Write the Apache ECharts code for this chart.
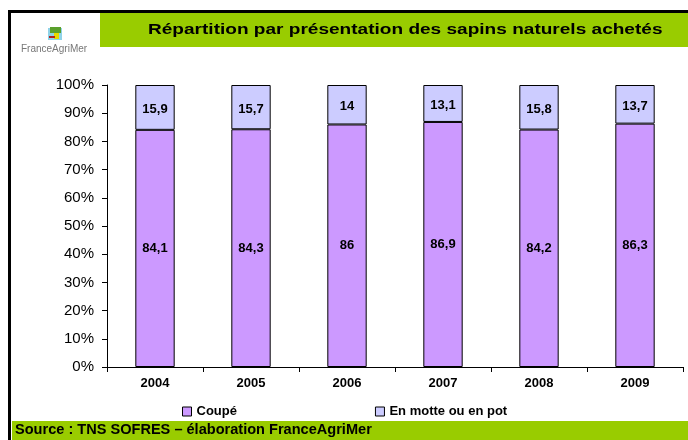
<!DOCTYPE html>
<html>
<head>
<meta charset="utf-8">
<script src="https://cdn.jsdelivr.net/npm/echarts@6/dist/echarts.min.js"></script>
<style>
  html, body { margin: 0; padding: 0; background: #fff; }
  #main { width: 688px; height: 440px; }
</style>
</head>
<body>
<div id="main"></div>
<script>
// années
var years = ['2004', '2005', '2006', '2007', '2008', '2009'];
// parts en %
var coupe = [84.1, 84.3, 86, 86.9, 84.2, 86.3];
var motte = [15.9, 15.7, 14, 13.1, 15.8, 13.7];

var myChart = echarts.init(document.getElementById('main'));

var fmt = function (p) { return String(p.value).replace('.', ','); };

var option = {
  animation: false,
  textStyle: { fontFamily: 'Liberation Sans, Arial, sans-serif' },
  graphic: [
    // cadre
    { type: 'rect', shape: { x: 9.5, y: 11.5, width: 700, height: 440 }, style: { fill: 'none', stroke: '#000', lineWidth: 3 }, z: 10 },
    // bandeau titre
    { type: 'rect', shape: { x: 100, y: 13, width: 600, height: 34 }, style: { fill: '#99cc00' } },
    { type: 'text', x: 148, y: 22, scaleX: 1.27, style: { text: 'Répartition par présentation des sapins naturels achetés', font: 'bold 15px Liberation Sans, Arial', fill: '#000' } },
    // logo
    { type: 'rect', shape: { x: 48, y: 28, width: 14, height: 12 }, style: { fill: '#8fd3e8' } },
    { type: 'rect', shape: { x: 50, y: 27, width: 11, height: 6 }, style: { fill: '#5aa02c' } },
    { type: 'rect', shape: { x: 54, y: 33, width: 5, height: 6 }, style: { fill: '#e8d800' } },
    { type: 'rect', shape: { x: 49, y: 36, width: 6, height: 2 }, style: { fill: '#b02020' } },
    { type: 'text', left: 21, top: 44, style: { text: 'FranceAgriMer', font: '10px Liberation Sans, Arial', fill: '#777' } },
    // source
    { type: 'rect', shape: { x: 12, y: 421, width: 680, height: 20 }, style: { fill: '#99cc00' } },
    { type: 'text', x: 15, y: 423, scaleX: 1.04, style: { text: 'Source : TNS SOFRES – élaboration FranceAgriMer', font: 'bold 14px Liberation Sans, Arial', fill: '#000' } }
  ],
  legend: {
    left: 177,
    top: 400,
    itemWidth: 9,
    itemHeight: 9,
    itemGap: 138,
    icon: 'rect',
    textStyle: { fontSize: 13, fontWeight: 'bold', color: '#000' },
    data: [
      { name: 'Coupé', itemStyle: { borderColor: '#000', borderWidth: 1 } },
      { name: 'En motte ou en pot', itemStyle: { borderColor: '#000', borderWidth: 1 } }
    ]
  },
  grid: { left: 107, right: 5, top: 85, bottom: 73 },
  xAxis: {
    type: 'category',
    data: years,
    axisLine: { lineStyle: { color: '#000' } },
    axisTick: { show: true, lineStyle: { color: '#000' } },
    axisLabel: { color: '#000', fontWeight: 'bold', fontSize: 13, margin: 10 }
  },
  yAxis: {
    type: 'value',
    min: 0,
    max: 100,
    interval: 10,
    axisLine: { show: true, lineStyle: { color: '#000' } },
    axisTick: { show: true, inside: false, length: 5, lineStyle: { color: '#000' } },
    splitLine: { show: false },
    axisLabel: { color: '#000', fontSize: 15, margin: 13, formatter: '{value}%' }
  },
  series: [
    {
      name: 'Coupé',
      type: 'bar',
      stack: 'total',
      barWidth: '41%',
      itemStyle: { color: '#cc99ff', borderColor: '#000', borderWidth: 1 },
      label: { show: true, position: 'inside', formatter: fmt, color: '#000', fontWeight: 'bold', fontSize: 13 },
      data: coupe
    },
    {
      name: 'En motte ou en pot',
      type: 'bar',
      stack: 'total',
      itemStyle: { color: '#ccccff', borderColor: '#000', borderWidth: 1 },
      label: { show: true, position: 'inside', offset: [0, 2], formatter: fmt, color: '#000', fontWeight: 'bold', fontSize: 13 },
      data: motte
    }
  ]
};
myChart.setOption(option);
</script>
</body>
</html>
